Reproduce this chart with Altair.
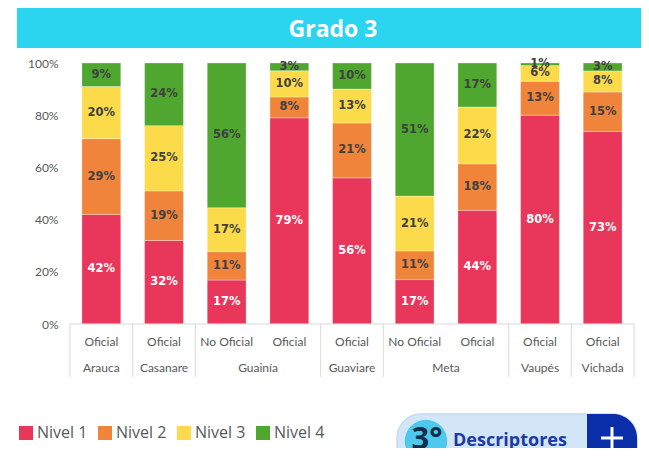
import altair as alt
import pandas as pd

# ---------------- data ----------------
departamentos = ["Arauca", "Casanare", "Guainía", "Guainía", "Guaviare", "Meta", "Meta", "Vaupés", "Vichada"]
sectores = ["Oficial", "Oficial", "No Oficial", "Oficial", "Oficial", "No Oficial", "Oficial", "Oficial", "Oficial"]
niveles = ["Nivel 1", "Nivel 2", "Nivel 3", "Nivel 4"]
nivel_1 = [42, 32, 17, 79, 56, 17, 44, 80, 73]
nivel_2 = [29, 19, 11, 8, 21, 11, 18, 13, 15]
nivel_3 = [20, 25, 17, 10, 13, 21, 22, 6, 8]
nivel_4 = [9, 24, 56, 3, 10, 51, 17, 1, 3]
grupos = ["Arauca", "Casanare", "Guainía", "Guaviare", "Meta", "Vaupés", "Vichada"]
colores = ["#E8375A", "#F0843A", "#FCDB4B", "#4FA72F"]
titulo = "Grado 3"
boton = ["3°", "Descriptores", "De click aquí"]
y_ticks = [0, 0.2, 0.4, 0.6, 0.8, 1.0]

W, H = 564, 261
GRAY = "#595959"
LINE = "#D9D9D9"

claves = [f"{d} · {s}" for d, s in zip(departamentos, sectores)]
series = [nivel_1, nivel_2, nivel_3, nivel_4]
rows = []
for i, k in enumerate(claves):
    for j, nv in enumerate(niveles):
        rows.append({"clave": k, "nivel": nv, "orden": j, "valor": series[j][i]})
df = pd.DataFrame(rows)
df_sub = pd.DataFrame({"clave": claves, "sector": sectores})

spans = []
for g in grupos:
    idx = [i for i, d in enumerate(departamentos) if d == g]
    spans.append({"grupo": g, "ini": min(idx), "fin": max(idx) + 1})
df_grp = pd.DataFrame(spans)
limites = sorted(set(df_grp["ini"]).union(set(df_grp["fin"])))
df_sep = pd.DataFrame({"limite": limites})

# ---------------- bars & labels ----------------
x_band = alt.X("clave:N", sort=claves, axis=None,
               scale=alt.Scale(type="band", paddingInner=0, paddingOuter=0))

stacked = alt.Chart(df).transform_stack(
    stack="valor", as_=["y0", "y1"], groupby=["clave"],
    sort=[alt.SortField("orden", order="ascending")], offset="normalize"
).transform_calculate(
    ymid="(datum.y0 + datum.y1) / 2",
    etiqueta="datum.valor + '%'"
)

bars = stacked.mark_bar(width=alt.RelativeBandSize(0.62), stroke="#FFFFFF",
                        strokeWidth=0.6, strokeOpacity=0.5).encode(
    x=x_band,
    y=alt.Y("y0:Q", scale=alt.Scale(domain=[0, 1], nice=False),
            axis=alt.Axis(format=".0%", values=y_ticks, domain=False, ticks=False,
                          grid=False, labelFont="Lato", labelFontSize=12,
                          labelColor=GRAY, labelPadding=12, title=None)),
    y2="y1:Q",
    color=alt.Color("nivel:N", scale=alt.Scale(domain=niveles, range=colores),
                    legend=alt.Legend(orient="none", legendX=-52, legendY=362,
                                      direction="horizontal", title=None,
                                      symbolType="square", symbolSize=196,
                                      symbolStrokeWidth=0, labelFont="Open Sans",
                                      labelFontSize=16, labelColor=GRAY,
                                      labelOffset=3, columnPadding=9)),
    order=alt.Order("orden:Q")
)

labels = stacked.mark_text(font="DejaVu Sans", fontWeight="bold", fontSize=11.5,
                           baseline="middle").encode(
    x=x_band,
    y=alt.Y("ymid:Q"),
    text="etiqueta:N",
    color=alt.condition(alt.datum.nivel == "Nivel 1", alt.value("#FFFFFF"), alt.value("#404040"))
)

sub = alt.Chart(df_sub).mark_text(font="Lato", fontSize=12, color=GRAY,
                                  baseline="middle").encode(
    x=x_band, y=alt.value(H + 18), text="sector:N"
)

inner = alt.layer(bars, labels, sub)

x_lin = alt.Scale(domain=[0, len(claves)], nice=False, zero=True)

grp = alt.Chart(df_grp).transform_calculate(
    centro="(datum.ini + datum.fin) / 2"
).mark_text(font="Lato", fontSize=12, color=GRAY, baseline="middle").encode(
    x=alt.X("centro:Q", scale=x_lin, axis=None), y=alt.value(H + 44), text="grupo:N"
)

seps = alt.Chart(df_sep).mark_rule(color=LINE, strokeWidth=1).encode(
    x=alt.X("limite:Q", scale=x_lin, axis=None), y=alt.value(H), y2=alt.value(H + 53)
)

one = pd.DataFrame({"t": [titulo]})
base_line = alt.Chart(one).mark_rule(color=LINE, strokeWidth=1).encode(
    x=alt.value(0), x2=alt.value(W), y=alt.value(H)
)

banner = alt.Chart(one).mark_rect(color="#2BD5F0").encode(
    x=alt.value(-53), x2=alt.value(W + 10), y=alt.value(-56), y2=alt.value(-15)
)
title_txt = alt.Chart(one).mark_text(font="Open Sans", fontWeight="bold", fontSize=23,
                                     color="#FFFFFF", baseline="middle").encode(
    x=alt.value(263), y=alt.value(-33), text="t:N"
)

btn = pd.DataFrame({"a": [boton[0]], "b": [boton[1]], "c": [boton[2]]})
pill = alt.Chart(btn).mark_rect(color="#D3E6F8", cornerRadius=24, stroke="#C3DCF3",
                                strokeWidth=1.5).encode(
    x=alt.value(327), x2=alt.value(567), y=alt.value(351), y2=alt.value(410)
)
dark = alt.Chart(btn).mark_rect(color="#0A2DAA", cornerRadiusTopRight=24,
                                cornerRadiusBottomRight=24).encode(
    x=alt.value(517), x2=alt.value(567), y=alt.value(351), y2=alt.value(410)
)
circ = alt.Chart(btn).mark_circle(color="#4FC8EE", opacity=1, size=1800).encode(
    x=alt.value(356), y=alt.value(378)
)
circ_txt = alt.Chart(btn).mark_text(font="Open Sans", fontWeight="bold", fontSize=31,
                                    color="#10304A", baseline="middle").encode(
    x=alt.value(357), y=alt.value(377), text="a:N"
)
desc = alt.Chart(btn).mark_text(font="Open Sans", fontWeight="bold", fontSize=18,
                                color="#1B3AA7", baseline="middle", align="left").encode(
    x=alt.value(383), y=alt.value(378), text="b:N"
)
click = alt.Chart(btn).mark_text(font="Open Sans", fontSize=10, color="#3A6BD0",
                                 baseline="top", align="left").encode(
    x=alt.value(432), y=alt.value(390), text="c:N"
)
plus_h = alt.Chart(btn).mark_rule(color="#FFFFFF", strokeWidth=3).encode(
    x=alt.value(531), x2=alt.value(553), y=alt.value(375)
)
plus_v = alt.Chart(btn).mark_rule(color="#FFFFFF", strokeWidth=3).encode(
    x=alt.value(542), y=alt.value(364), y2=alt.value(386)
)

chart = alt.layer(
    banner, title_txt, inner, grp, seps, base_line,
    pill, dark, circ, circ_txt, desc, click, plus_h, plus_v
).resolve_scale(x="independent").properties(
    width=W, height=H,
    autosize=alt.AutoSizeParams(type="none"),
    padding={"left": 62, "top": 55, "right": 7, "bottom": 124}
).configure_view(stroke=None)

chart.save("out.html", embed_options={"renderer": "svg", "actions": False})
